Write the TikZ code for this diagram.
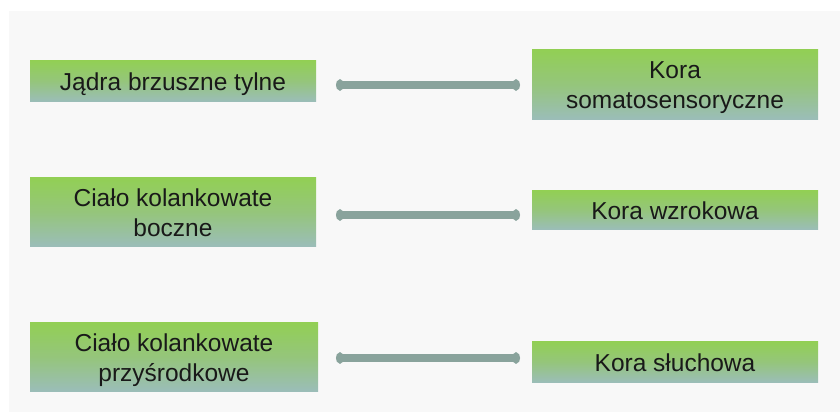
\documentclass[tikz,border=0pt]{standalone}
\usepackage{fontspec}
\setmainfont{Liberation Sans}
\usetikzlibrary{arrows.meta}
\definecolor{pagebg}{HTML}{F8F8F8}
\definecolor{boxtop}{HTML}{92CF55}
\definecolor{boxmid}{HTML}{95C57C}
\definecolor{boxbot}{HTML}{9BBDBA}
\definecolor{linkcol}{HTML}{89A39C}
\tikzset{
  region/.style={minimum width=286pt, inner sep=0pt, align=center,
    text depth=0pt,
    top color=boxtop, bottom color=boxbot, middle color=boxmid,
    font=\fontsize{24.5}{30}\selectfont, text=black!90},
  link/.style={draw=linkcol, line width=7.5pt,
    {Circle[length=8pt,width=11pt]}-{Circle[length=8pt,width=11pt]}},
}
\begin{document}
\begin{tikzpicture}[x=1pt,y=1pt]
\useasboundingbox (0,0) rectangle (840,412);
\fill[pagebg] (9,0) rectangle (840,401);
% thalamic nuclei (left column)
\node[region, minimum height=41pt] (b1) at (173,330.5) {Jądra brzuszne tylne};
\node[region, minimum height=69pt] (b3) at (173,199.5) {Ciało kolankowate\\boczne};
\node[region, minimum height=69pt, minimum width=288pt] (b5) at (174,54.5) {Ciało kolankowate\\przyśrodkowe};
% cortical areas (right column)
\node[region, minimum height=70pt] (b2) at (675,327) {Kora\\somatosensoryczne};
\node[region, minimum height=39pt] (b4) at (675,201.5) {Kora wzrokowa};
\node[region, minimum height=41pt] (b6) at (675,49.5) {Kora słuchowa};
% two-way projections
\coordinate (a1l) at (336,327); \coordinate (a1r) at (520,327);
\coordinate (a2l) at (336,197); \coordinate (a2r) at (520,197);
\coordinate (a3l) at (336,54);  \coordinate (a3r) at (520,54);
\draw[link] (a1l) -- (a1r);
\draw[link] (a2l) -- (a2r);
\draw[link] (a3l) -- (a3r);
\end{tikzpicture}
\end{document}
